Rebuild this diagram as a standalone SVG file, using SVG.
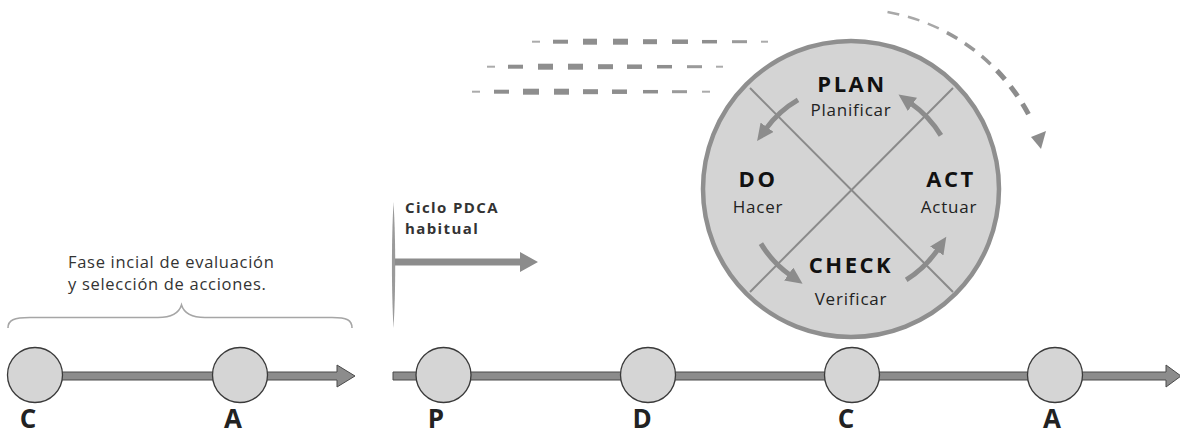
<svg xmlns="http://www.w3.org/2000/svg" width="1180" height="435" viewBox="0 0 1180 435">
  <defs>
    <style>
      .txt { font-family: "Open Sans", "DejaVu Sans", sans-serif; }
      .step { font-size: 22px; font-weight: 700; fill: #111; letter-spacing: 2.5px; text-anchor: middle; }
      .sub { font-size: 17px; fill: #222; letter-spacing: 0.8px; text-anchor: middle; }
      .tl-label { font-size: 26px; font-weight: 700; fill: #222; text-anchor: middle; }
      .note { font-size: 16.5px; fill: #333; letter-spacing: 0.7px; }
      .note-b { font-size: 15px; font-weight: 700; fill: #333; letter-spacing: 1.4px; }
      .dot { fill: #d5d5d5; stroke: #3a3a3a; stroke-width: 1.3; }
      .bar { fill: #8c8c8c; stroke: #4a4a4a; stroke-width: 1; }
      .cycle-arrow { fill: none; stroke: #8c8c8c; stroke-width: 5; marker-end: url(#head); }
      .dash { stroke: #8e8e8e; }
      .d1 { stroke-width: 2; stroke: #ababab; }
      .d2 { stroke-width: 4; }
      .d3 { stroke-width: 6; }
      .d4 { stroke-width: 5; }
      .d5 { stroke-width: 4.5; }
      .d6 { stroke-width: 3.5; }
      .d7 { stroke-width: 3; stroke: #9a9a9a; }
      .orbit { fill: none; stroke-dasharray: 12 9; }
    </style>
    <marker id="head" markerUnits="userSpaceOnUse" markerWidth="18" markerHeight="16" refX="2" refY="8" orient="auto">
      <path d="M0,0 L17,8 L0,16 Z" fill="#8c8c8c"/>
    </marker>
  </defs>

  <rect width="1180" height="435" fill="#ffffff"/>

  <!-- connectors: timeline bars, arrows, motion dashes -->
  <g id="connectors">
    <path class="bar" d="M12,372 L337,372 L337,365 L355,376 L337,387 L337,380 L12,380 Z"/>
    <path class="bar" d="M393,372 L1166,372 L1166,365 L1181,376 L1166,387 L1166,380 L393,380 Z"/>

    <!-- habitual cycle start marker -->
    <path d="M393.5,202 C395.8,240 395.8,290 393.5,328 C391.4,290 391.4,240 393.5,202 Z" fill="#9a9a9a"/>
    <path d="M395,258.5 L520,258.5 L520,252 L538,262 L520,272 L520,265.5 L395,265.5 Z" fill="#8c8c8c"/>

    <!-- speed dashes -->
    <g class="dash">
      <line class="d1" x1="532" y1="41.7" x2="540" y2="41.7"/>
      <line class="d2" x1="553" y1="41.7" x2="568" y2="41.7"/>
      <line class="d3" x1="583" y1="41.7" x2="597" y2="41.7"/>
      <line class="d3" x1="613" y1="41.7" x2="628" y2="41.7"/>
      <line class="d4" x1="643" y1="41.7" x2="657" y2="41.7"/>
      <line class="d5" x1="672" y1="41.7" x2="688" y2="41.7"/>
      <line class="d6" x1="702" y1="41.7" x2="717" y2="41.7"/>
      <line class="d7" x1="732" y1="41.7" x2="747" y2="41.7"/>
      <line class="d1" x1="761" y1="41.7" x2="768" y2="41.7"/>

      <line class="d1" x1="487" y1="66.7" x2="495" y2="66.7"/>
      <line class="d2" x1="508" y1="66.7" x2="523" y2="66.7"/>
      <line class="d3" x1="538" y1="66.7" x2="553" y2="66.7"/>
      <line class="d3" x1="568" y1="66.7" x2="583" y2="66.7"/>
      <line class="d4" x1="598" y1="66.7" x2="613" y2="66.7"/>
      <line class="d5" x1="627" y1="66.7" x2="642" y2="66.7"/>
      <line class="d6" x1="657" y1="66.7" x2="672" y2="66.7"/>
      <line class="d7" x1="687" y1="66.7" x2="702" y2="66.7"/>
      <line class="d1" x1="716" y1="66.7" x2="723" y2="66.7"/>

      <line class="d1" x1="472" y1="91.7" x2="480" y2="91.7"/>
      <line class="d2" x1="494" y1="91.7" x2="509" y2="91.7"/>
      <line class="d3" x1="523" y1="91.7" x2="539" y2="91.7"/>
      <line class="d3" x1="554" y1="91.7" x2="569" y2="91.7"/>
      <line class="d4" x1="583" y1="91.7" x2="598" y2="91.7"/>
      <line class="d5" x1="612" y1="91.7" x2="627" y2="91.7"/>
      <line class="d6" x1="643" y1="91.7" x2="658" y2="91.7"/>
      <line class="d7" x1="672" y1="91.7" x2="687" y2="91.7"/>
      <line class="d1" x1="702" y1="91.7" x2="710" y2="91.7"/>
    </g>

    <!-- dashed orbit arrow -->
    <path class="orbit" d="M887.5,12 A199,199 0 0 1 946.9,32.6" stroke="#a8a8a8" stroke-width="2.5"/>
    <path class="orbit" d="M946.9,32.6 A199,199 0 0 1 996.9,70.5" stroke="#979797" stroke-width="3.5"/>
    <path class="orbit" d="M996.9,70.5 A199,199 0 0 1 1030.3,117.7" stroke="#8c8c8c" stroke-width="5"/>
    <polygon points="1031,137 1046,131 1041,149" fill="#8c8c8c"/>
  </g>

  <!-- bracket over the initial phase -->
  <g id="bracket">
    <path d="M8,328 C8,320 14,317.5 30,317.5 L158,317.5 C172,317.5 179,313 181.5,305 C184,313 191,317.5 205,317.5 L332,317.5 C347,317.5 352,320 352,328" fill="none" stroke="#a6a6a6" stroke-width="1.6"/>
    <text class="txt note" x="68" y="268">Fase incial de evaluación</text>
    <text class="txt note" x="68" y="290">y selección de acciones.</text>
  </g>

  <g id="habitual-label">
    <text class="txt note-b" x="405" y="213">Ciclo PDCA</text>
    <text class="txt note-b" x="405" y="234">habitual</text>
  </g>

  <!-- PDCA wheel -->
  <g id="pdca-cycle">
    <circle cx="851" cy="189" r="148" fill="#d4d4d4" stroke="#8f8f8f" stroke-width="4.5"/>
    <line x1="750" y1="88" x2="953" y2="292" stroke="#8a8a8a" stroke-width="2"/>
    <line x1="953" y1="88" x2="750" y2="292" stroke="#8a8a8a" stroke-width="2"/>

    <path class="cycle-arrow" d="M798,99.9 A104,104 0 0 0 765.9,128.9"/>
    <path class="cycle-arrow" d="M760.9,243.6 A104,104 0 0 0 790.3,275.2"/>
    <path class="cycle-arrow" d="M906.2,279.9 A106,106 0 0 0 937.9,249.3"/>
    <path class="cycle-arrow" d="M940.9,135.4 A106,106 0 0 0 910.8,103.2"/>

    <g id="plan">
      <text class="txt step" x="852" y="92">PLAN</text>
      <text class="txt sub" x="851" y="116">Planificar</text>
    </g>
    <g id="do">
      <text class="txt step" x="758" y="187">DO</text>
      <text class="txt sub" x="758" y="213">Hacer</text>
    </g>
    <g id="check">
      <text class="txt step" x="851" y="273">CHECK</text>
      <text class="txt sub" x="851" y="305">Verificar</text>
    </g>
    <g id="act">
      <text class="txt step" x="951" y="187">ACT</text>
      <text class="txt sub" x="949" y="213">Actuar</text>
    </g>
  </g>

  <!-- timeline nodes -->
  <g id="node-c1"><circle class="dot" cx="35" cy="375" r="27.5"/><text class="txt tl-label" x="28" y="428">C</text></g>
  <g id="node-a1"><circle class="dot" cx="240" cy="375" r="27.5"/><text class="txt tl-label" x="233" y="428">A</text></g>
  <g id="node-p"><circle class="dot" cx="443.5" cy="375" r="27.5"/><text class="txt tl-label" x="436" y="428">P</text></g>
  <g id="node-d"><circle class="dot" cx="648" cy="375" r="27.5"/><text class="txt tl-label" x="642" y="428">D</text></g>
  <g id="node-c2"><circle class="dot" cx="852" cy="375" r="27.5"/><text class="txt tl-label" x="846" y="428">C</text></g>
  <g id="node-a2"><circle class="dot" cx="1055" cy="375" r="27.5"/><text class="txt tl-label" x="1052" y="428">A</text></g>
</svg>
